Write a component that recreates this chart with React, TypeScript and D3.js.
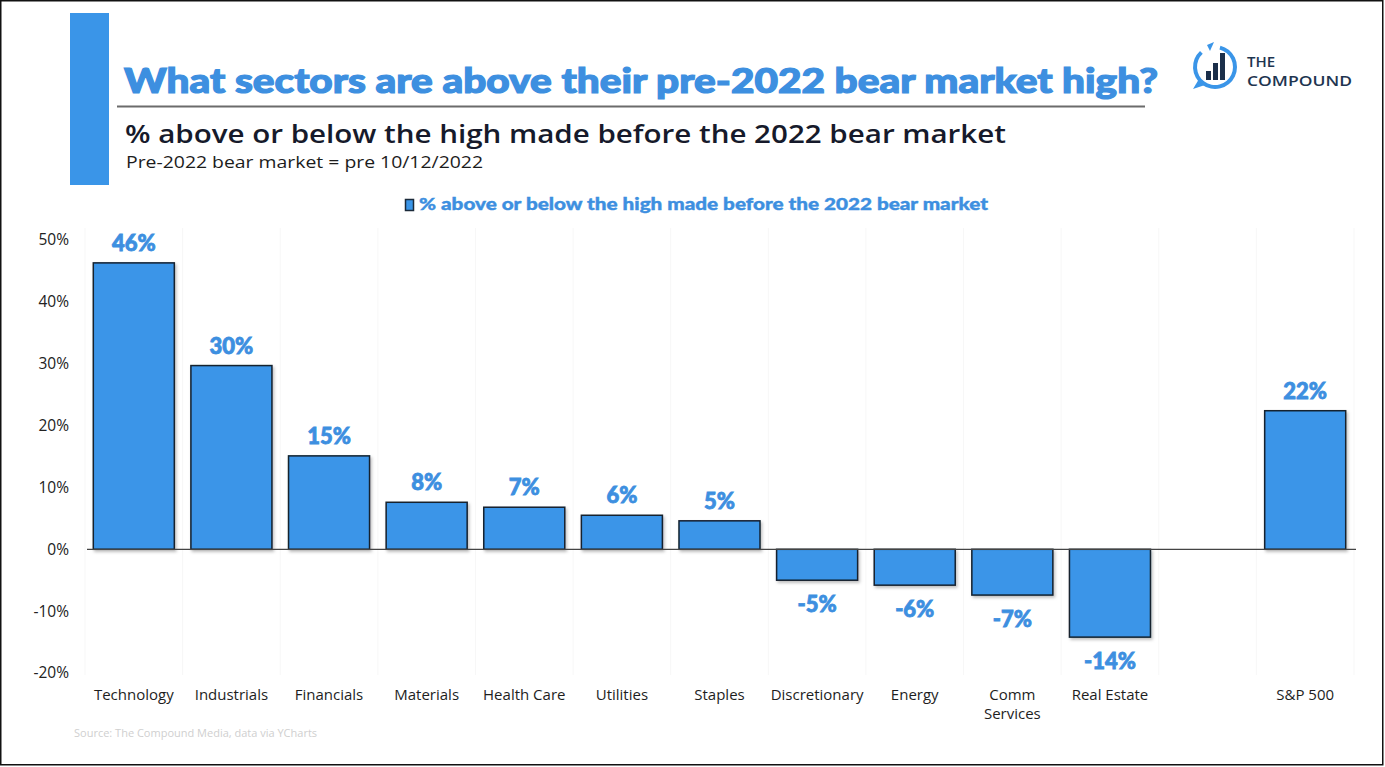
import React, { useEffect, useRef } from 'react';
import * as d3 from 'd3';

const categories = ['Technology', 'Industrials', 'Financials', 'Materials', 'Health Care', 'Utilities', 'Staples', 'Discretionary', 'Energy', 'Comm Services', 'Real Estate', '', 'S&P 500'];
const values: (number | null)[] = [46.3, 29.7, 15.1, 7.6, 6.8, 5.5, 4.6, -5.0, -5.8, -7.4, -14.2, null, 22.4];
const yTicks = [-20, -10, 0, 10, 20, 30, 40, 50];

const BLUE = '#3a95e8';
const LABEL_BLUE = '#3d8fe0';

export default function App() {
  const svgRef = useRef<SVGSVGElement>(null);

  useEffect(() => {
    if (!svgRef.current) return;
    const width = 1385;
    const height = 767;
    const svg = d3.select(svgRef.current);
    svg.selectAll('*').remove();
    svg.attr('width', width).attr('height', height).attr('viewBox', [0, 0, width, height]);

    svg.append('rect').attr('x', 0).attr('y', 0).attr('width', width).attr('height', height).attr('fill', '#fff');
    svg.append('rect').attr('x', 0.75).attr('y', 0.75).attr('width', width - 3).attr('height', height - 3)
      .attr('fill', 'none').attr('stroke', '#111').attr('stroke-width', 1.5);

    // header
    svg.append('rect').attr('x', 70).attr('y', 13).attr('width', 39).attr('height', 172).attr('fill', BLUE);
    svg.append('text').attr('x', 124).attr('y', 93)
      .attr('font-family', 'Lato, "Open Sans", sans-serif').attr('font-weight', 900).attr('font-size', 35)
      .attr('fill', LABEL_BLUE).attr('stroke', LABEL_BLUE).attr('stroke-width', 1.2)
      .attr('textLength', 1034).attr('lengthAdjust', 'spacingAndGlyphs')
      .text('What sectors are above their pre-2022 bear market high?');
    svg.append('line').attr('x1', 117).attr('x2', 1145).attr('y1', 106.5).attr('y2', 106.5)
      .attr('stroke', '#6b6b6b').attr('stroke-width', 2);
    svg.append('text').attr('x', 125).attr('y', 143)
      .attr('font-family', '"Open Sans", sans-serif').attr('font-weight', 600).attr('font-size', 24.5)
      .attr('fill', '#161a2b').attr('textLength', 881).attr('lengthAdjust', 'spacingAndGlyphs')
      .text('% above or below the high made before the 2022 bear market');
    svg.append('text').attr('x', 126).attr('y', 168)
      .attr('font-family', '"Open Sans", sans-serif').attr('font-size', 16).attr('fill', '#1c1c1c')
      .attr('textLength', 357).attr('lengthAdjust', 'spacingAndGlyphs')
      .text('Pre-2022 bear market = pre 10/12/2022');

    // logo
    const logo = svg.append('g').attr('transform', 'translate(1215,67)');
    logo.append('path')
      .attr('d', d3.arc()({ innerRadius: 18, outerRadius: 22, startAngle: 0.25, endAngle: 2 * Math.PI - 0.75 }) as string)
      .attr('fill', BLUE);
    logo.append('path').attr('d', 'M-8,-22 L-1,-25 L-5,-16 Z').attr('fill', BLUE);
    logo.append('path').attr('d', 'M-16,12 L-22,22 L-10,18 Z').attr('fill', BLUE);
    [[-9, 9], [-2, 17], [5, 27]].forEach(([x, h]) => {
      logo.append('rect').attr('x', x).attr('y', 13 - h).attr('width', 5).attr('height', h).attr('fill', '#1b2f4a');
    });
    svg.append('text').attr('x', 1247).attr('y', 67)
      .attr('font-family', '"Open Sans", sans-serif').attr('font-weight', 600).attr('font-size', 15)
      .attr('fill', '#1e3550').text('THE');
    svg.append('text').attr('x', 1247).attr('y', 86)
      .attr('font-family', '"Open Sans", sans-serif').attr('font-weight', 600).attr('font-size', 15)
      .attr('fill', '#1e3550').attr('textLength', 105).attr('lengthAdjust', 'spacingAndGlyphs').text('COMPOUND');

    // legend
    svg.append('rect').attr('x', 405.5).attr('y', 199.5).attr('width', 8).attr('height', 11)
      .attr('fill', BLUE).attr('stroke', '#1b2a3a').attr('stroke-width', 1.5);
    svg.append('text').attr('x', 419).attr('y', 210)
      .attr('font-family', 'Lato, "Open Sans", sans-serif').attr('font-weight', 900).attr('font-size', 17)
      .attr('fill', LABEL_BLUE).attr('stroke', LABEL_BLUE).attr('stroke-width', 0.4)
      .attr('textLength', 569).attr('lengthAdjust', 'spacingAndGlyphs')
      .text('% above or below the high made before the 2022 bear market');

    // chart
    const x = d3.scaleBand<string>().domain(categories.map((c, i) => c || `blank${i}`)).range([85, 1354]).paddingInner(0.17).paddingOuter(0.085);
    const y = d3.scaleLinear().domain([-20, 50]).range([673, 240]);
    const key = (i: number) => categories[i] || `blank${i}`;

    // faint vertical separators
    const step = x.step();
    d3.range(categories.length + 1).forEach(i => {
      const xx = 85 + i * step;
      svg.append('line').attr('x1', xx).attr('x2', xx).attr('y1', 228).attr('y2', 675)
        .attr('stroke', '#f7f7f7').attr('stroke-width', 1);
    });

    // y axis
    const yAxis = svg.append('g').attr('transform', 'translate(69,0)')
      .call(d3.axisLeft(y).tickValues(yTicks).tickSize(0).tickPadding(0).tickFormat(d => `${d}%`));
    yAxis.select('.domain').remove();
    yAxis.selectAll('text').attr('font-family', '"Open Sans", sans-serif').attr('font-size', 15.5).attr('fill', '#222');

    // shadows + bars
    const defs = svg.append('defs');
    const f = defs.append('filter').attr('id', 'sh').attr('x', '-10%').attr('y', '-10%').attr('width', '130%').attr('height', '130%');
    f.append('feDropShadow').attr('dx', 1.5).attr('dy', 2).attr('stdDeviation', 1.5).attr('flood-color', '#000').attr('flood-opacity', 0.25);

    values.forEach((v, i) => {
      if (v === null) return;
      const x0 = x(key(i))!;
      svg.append('rect')
        .attr('x', x0).attr('width', x.bandwidth())
        .attr('y', y(Math.max(0, v))).attr('height', Math.abs(y(v) - y(0)))
        .attr('fill', BLUE).attr('stroke', '#14202e').attr('stroke-width', 1.5)
        .attr('filter', 'url(#sh)');
    });

    // zero line
    svg.append('line').attr('x1', 87).attr('x2', 1356).attr('y1', y(0)).attr('y2', y(0))
      .attr('stroke', '#444').attr('stroke-width', 1.2);

    // value labels
    values.forEach((v, i) => {
      if (v === null) return;
      const cx = x(key(i))! + x.bandwidth() / 2;
      svg.append('text').attr('x', cx).attr('y', v >= 0 ? y(v) - 12 : y(v) + 32)
        .attr('text-anchor', 'middle')
        .attr('font-family', 'Lato, "Open Sans", sans-serif').attr('font-weight', 900).attr('font-size', 22)
        .attr('fill', LABEL_BLUE).attr('stroke', LABEL_BLUE).attr('stroke-width', 0.8).text(`${Math.round(v)}%`);
    });

    // category labels
    categories.forEach((c, i) => {
      if (!c) return;
      const cx = x(key(i))! + x.bandwidth() / 2;
      const lines = c === 'Comm Services' ? ['Comm', 'Services'] : [c];
      lines.forEach((ln, j) => {
        svg.append('text').attr('x', cx).attr('y', 700 + j * 19).attr('text-anchor', 'middle')
          .attr('font-family', '"Open Sans", sans-serif').attr('font-size', 15).attr('fill', '#1e1e1e').text(ln);
      });
    });

    svg.append('text').attr('x', 74).attr('y', 737)
      .attr('font-family', '"Open Sans", sans-serif').attr('font-size', 11).attr('fill', '#cfcfcf')
      .text('Source: The Compound Media, data via YCharts');
  }, []);

  return (
    <div style={{ position: 'absolute', left: 0, top: 0 }}>
      <svg ref={svgRef} style={{ display: 'block' }} />
    </div>
  );
}
